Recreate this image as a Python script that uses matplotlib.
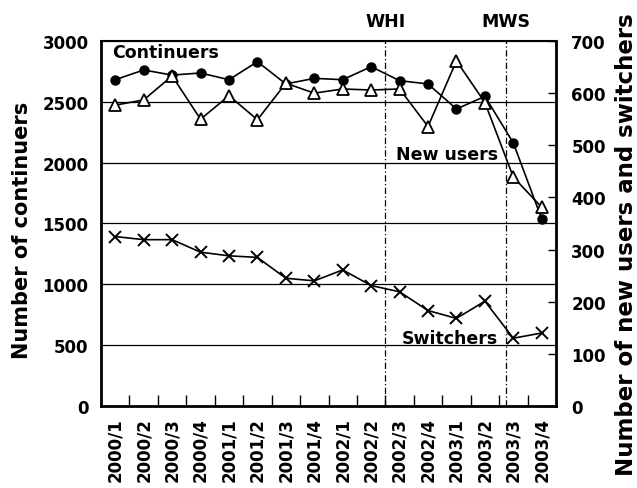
import numpy as np
import matplotlib
matplotlib.use('Agg')
import matplotlib.pyplot as plt

quarters = ['2000/1', '2000/2', '2000/3', '2000/4', '2001/1', '2001/2', '2001/3', '2001/4',
            '2002/1', '2002/2', '2002/3', '2002/4', '2003/1', '2003/2', '2003/3', '2003/4']
continuers = [2682, 2762, 2720, 2737, 2682, 2830, 2647, 2693,
              2682, 2789, 2674, 2647, 2441, 2545, 2162, 1537]
new_users = [577, 587, 633, 550, 595, 549, 619, 600,
             608, 606, 608, 536, 662, 582, 439, 381]
switchers = [325, 319, 319, 295, 288, 285, 245, 240,
             261, 231, 219, 183, 168, 201, 130, 140]
whi_pos = 9.5
mws_pos = 13.75

plt.rcParams['font.family'] = ['DejaVu Sans']
plt.rcParams['font.weight'] = 'bold'

fig = plt.figure(figsize=(6.37, 4.89), dpi=100)
ax = fig.add_axes([0.1586, 0.1677, 0.8728 - 0.1586, 0.9141 - 0.1677])
ax2 = ax.twinx()

x = np.arange(len(quarters))

for v in [500, 1000, 1500, 2000, 2500]:
    ax.axhline(v, color='black', lw=0.9, zorder=1)
for p in [whi_pos, mws_pos]:
    ax.axvline(p, color='black', lw=0.9, ls=(0, (5, 2, 1, 2)), zorder=1)

ax.plot(x, continuers, color='black', lw=1.2, marker='o', ms=6.5, zorder=3)
ax2.plot(x, new_users, color='black', lw=1.2, marker='^', ms=8.5,
         mfc='white', mec='black', mew=1.3, zorder=3)
ax2.plot(x, switchers, color='black', lw=1.2, marker='x', ms=8, mew=1.4, zorder=3)

ax.set_xlim(-0.5, 15.5)
ax.set_ylim(0, 3000)
ax2.set_ylim(0, 700)

ax.set_yticks(np.arange(0, 3001, 500))
ax2.set_yticks(np.arange(0, 701, 100))
ax.set_xticks(np.arange(0.5, 15, 1), minor=False)
ax.set_xticklabels([])
ax.set_xticks(x, minor=True)
ax.set_xticklabels(quarters, minor=True, rotation=90, fontsize=12, fontweight='bold')
ax.tick_params(axis='x', which='major', direction='in', length=8, width=1)
ax.tick_params(axis='x', which='minor', length=0, pad=8)
ax.tick_params(axis='y', length=0, labelsize=12, pad=9)
ax2.tick_params(axis='y', direction='in', length=6, width=1, labelsize=12, pad=11)
for lab in ax.get_yticklabels() + ax2.get_yticklabels():
    lab.set_fontweight('bold')

for sp in ax2.spines.values():
    sp.set_linewidth(2)
ax2.spines['top'].set_linewidth(1.5)

ax.set_ylabel('Number of continuers', fontsize=15, fontweight='bold')
ax.yaxis.set_label_coords(-0.152, 0.485)
ax2.set_ylabel('Number of new users and switchers', fontsize=16.5, fontweight='bold',
               rotation=90)
ax2.yaxis.set_label_coords(1.13, 0.444)

ax.text(-0.1, 2909, 'Continuers', fontsize=12.5, fontweight='bold', va='center', ha='left')
ax.text(13.45, 2071, 'New users', fontsize=12.5, fontweight='bold', va='center', ha='right')
ax.text(13.45, 559, 'Switchers', fontsize=12.5, fontweight='bold', va='center', ha='right')
ax.text(whi_pos, 1.055, 'WHI', transform=ax.get_xaxis_transform(), fontsize=12.5,
        fontweight='bold', ha='center', va='center')
ax.text(mws_pos, 1.055, 'MWS', transform=ax.get_xaxis_transform(), fontsize=12.5,
        fontweight='bold', ha='center', va='center')

fig.savefig('out.png', dpi=100)
plt.close(fig)
